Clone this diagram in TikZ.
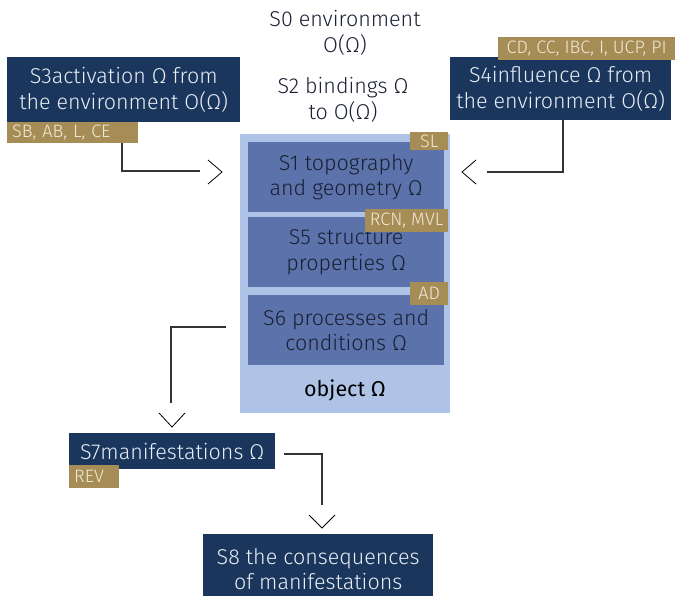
\documentclass[tikz,border=0pt]{standalone}
\usepackage{fontspec}
\setmainfont{Fira Sans Light}
\newfontfamily\regfont{Fira Sans}
\definecolor{navyc}{HTML}{1B365D}
\definecolor{navytext}{HTML}{E8EEF4}
\definecolor{goldc}{HTML}{A68D55}
\definecolor{tagtext}{HTML}{F2EAD8}
\definecolor{lightblue}{HTML}{AEC3E6}
\definecolor{midblue}{HTML}{5B73AA}
\definecolor{darktext}{HTML}{1A1F33}
\definecolor{linec}{HTML}{333333}
\begin{document}
\begin{tikzpicture}[x=1pt,y=-1pt,font=\fontsize{21.5}{25.5}\selectfont]
\tikzset{
  navybox/.style={fill=navyc,text=navytext,inner sep=0pt,align=center,anchor=north west},
  tagbox/.style={fill=goldc,text=tagtext,inner sep=0pt,inner xsep=5pt,anchor=north west,font=\fontsize{18}{20}\selectfont},
  midbox/.style={fill=midblue,text=darktext,inner sep=0pt,align=center,anchor=north west,minimum width=196pt,minimum height=70pt},
  plain/.style={align=center,inner sep=0pt,text=darktext},
  conn/.style={draw=linec,line width=1.1pt},
  chev/.style={draw=black,line width=0.8pt}
}
\clip (0,0) rectangle (683,595);
% top texts
\node[plain] (s0) at (345,33) {S0 environment\\O(Ω)};
\node[plain] (s2) at (343,100) {S2 bindings Ω\\to O(Ω)};
% S3
\node[navybox,minimum width=233pt,minimum height=65pt] (s3) at (7,57) {S3activation Ω from\\the environment O(Ω)};
\node[tagbox,minimum width=131pt,minimum height=21pt,text width=121pt,align=left] (s3tag) at (7,122) {SB, AB, L, CE};
% S4
\node[navybox,minimum width=221pt,minimum height=63pt] (s4) at (450,57) {S4influence Ω from\\the environment O(Ω)};
\node[tagbox,minimum width=177pt,minimum height=23pt] (s4tag) at (498,37) {CD, CC, IBC, I, UCP, PI};
% object
\node[fill=lightblue,anchor=north west,minimum width=210pt,minimum height=279pt,inner sep=0pt] (obj) at (240,134) {};
\node[midbox] (s1) at (248,142) {S1 topography\\and geometry Ω};
\node[midbox] (s5) at (248,217) {S5 structure\\properties Ω};
\node[midbox] (s6) at (248,295) {S6 processes and\\conditions Ω};
\node[tagbox,minimum width=38pt,minimum height=18pt,inner xsep=0pt] (sl) at (410,132) {SL};
\node[tagbox,minimum width=83pt,minimum height=23pt,inner xsep=0pt] (rcn) at (365,209) {RCN, MVL};
\node[tagbox,minimum width=38pt,minimum height=23pt,inner xsep=0pt] (ad) at (410,282) {AD};
\node[plain,font=\regfont\fontsize{21.5}{25}\selectfont,text=black] (objlabel) at (345,390) {object Ω};
% S7
\node[navybox,minimum width=206pt,minimum height=36pt] (s7) at (69,433) {S7manifestations Ω};
\node[tagbox,minimum width=50pt,minimum height=23pt,text width=40pt,align=left] (rev) at (69,465) {REV};
% S8
\node[navybox,minimum width=230pt,minimum height=70pt] (s8) at (203,534) {S8 the consequences\\of manifestations};
% connectors
\coordinate (a3s) at (122,143);
\coordinate (a3) at (200,171);
\draw[conn] (a3s) |- (a3);
\draw[chev] (208,160) -- (222,172) -- (208,184);
\coordinate (a4s) at (563,120);
\coordinate (a4) at (487,172);
\draw[conn] (a4s) |- (a4);
\draw[chev] (476,160) -- (462,172) -- (476,184);
\coordinate (a6s) at (226,327);
\coordinate (a6) at (171,403);
\draw[conn] (a6s) -| (a6);
\draw[chev] (159,413) -- (172,427) -- (185,413);
\coordinate (a7s) at (284,454);
\coordinate (a7) at (322,505);
\draw[conn] (a7s) -| (a7);
\draw[chev] (309,515) -- (322,528) -- (335,515);
\end{tikzpicture}
\end{document}
